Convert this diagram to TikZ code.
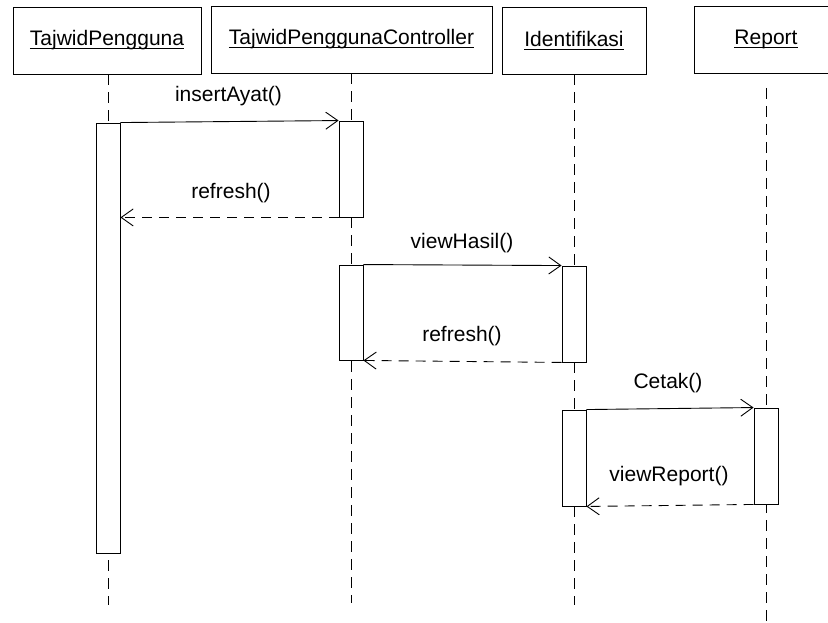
\documentclass[tikz,border=0pt]{standalone}
\usepackage{fontspec}
\setmainfont{Liberation Sans}
\usetikzlibrary{arrows.meta}
% underlined object name, the rule sitting just under the baseline
\newcommand\ulname[1]{\setbox0\hbox{#1}\rlap{\rule[-3pt]{\wd0}{0.9pt}}\box0}
\begin{document}
\begin{tikzpicture}[x=1pt,y=-1pt,
  every node/.style={font=\fontsize{21}{25}\selectfont},
  objbox/.style={draw,line width=0.9pt,minimum height=67pt,inner sep=0pt},
  lifeline/.style={line width=0.9pt,dash pattern=on 11pt off 7pt},
  actbox/.style={draw,fill=white,line width=0.9pt,minimum width=24pt,inner sep=0pt},
  call/.style={line width=0.9pt,-{Straight Barb[length=12pt,width=17pt]}},
  reply/.style={call,dash pattern=on 10pt off 7pt},
  msg/.style={inner sep=0pt}]
\useasboundingbox (0,0) rectangle (828,623);
\clip (0,0) rectangle (828,623);

% object headers
\node[objbox,minimum width=188pt] (o1) at (107,40.5) {\ulname{TajwidPengguna}};
\node[objbox,minimum width=281pt] (o2) at (351.5,39.5) {\ulname{TajwidPenggunaController}};
\node[objbox,minimum width=144pt] (o3) at (574,40.5) {\ulname{Identifikasi}};
\node[objbox,minimum width=144pt] (o4) at (766,39.5) {\ulname{Report}};

% lifeline ends
\coordinate (e1) at (108,605);
\coordinate (e2) at (351,603);
\coordinate (e3) at (574,605);
\coordinate (e4) at (766,623);
\coordinate (s4) at (766,88);

\draw[lifeline] (o1.south -| e1) -- (e1);
\draw[lifeline] (o2.south -| e2) -- (e2);
\draw[lifeline] (o3.south -| e3) -- (e3);
\draw[lifeline] (s4) -- (e4);

% activation bars
\node[actbox,minimum height=430pt] (a1) at (108,338) {};
\node[actbox,minimum height=96pt] (a2) at (351,169) {};
\node[actbox,minimum height=95pt] (a3) at (351,312.5) {};
\node[actbox,minimum height=96pt] (a4) at (574,314) {};
\node[actbox,minimum height=96pt] (a5) at (574,458) {};
\node[actbox,minimum height=96pt] (a6) at (766,456) {};

% messages
\draw[call] (a1.north east) -- (a2.north west);
\draw[reply] (a2.south west) -- (a2.south west -| a1.east);
\draw[call] (a3.north east) -- (a4.north west);
\draw[reply] (a4.south west) -- (a3.south east);
\draw[call] (a5.north east) -- (a6.north west);
\draw[reply] (a6.south west) -- (a5.south east);

% message labels
\node[msg] (m1) at (228.5,96.5) {insertAyat()};
\node[msg] (m2) at (231,193) {refresh()};
\node[msg] (m3) at (462,243) {viewHasil()};
\node[msg] (m4) at (462,336) {refresh()};
\node[msg] (m5) at (668,383) {Cetak()};
\node[msg] (m6) at (669,476) {viewReport()};
\end{tikzpicture}
\end{document}
